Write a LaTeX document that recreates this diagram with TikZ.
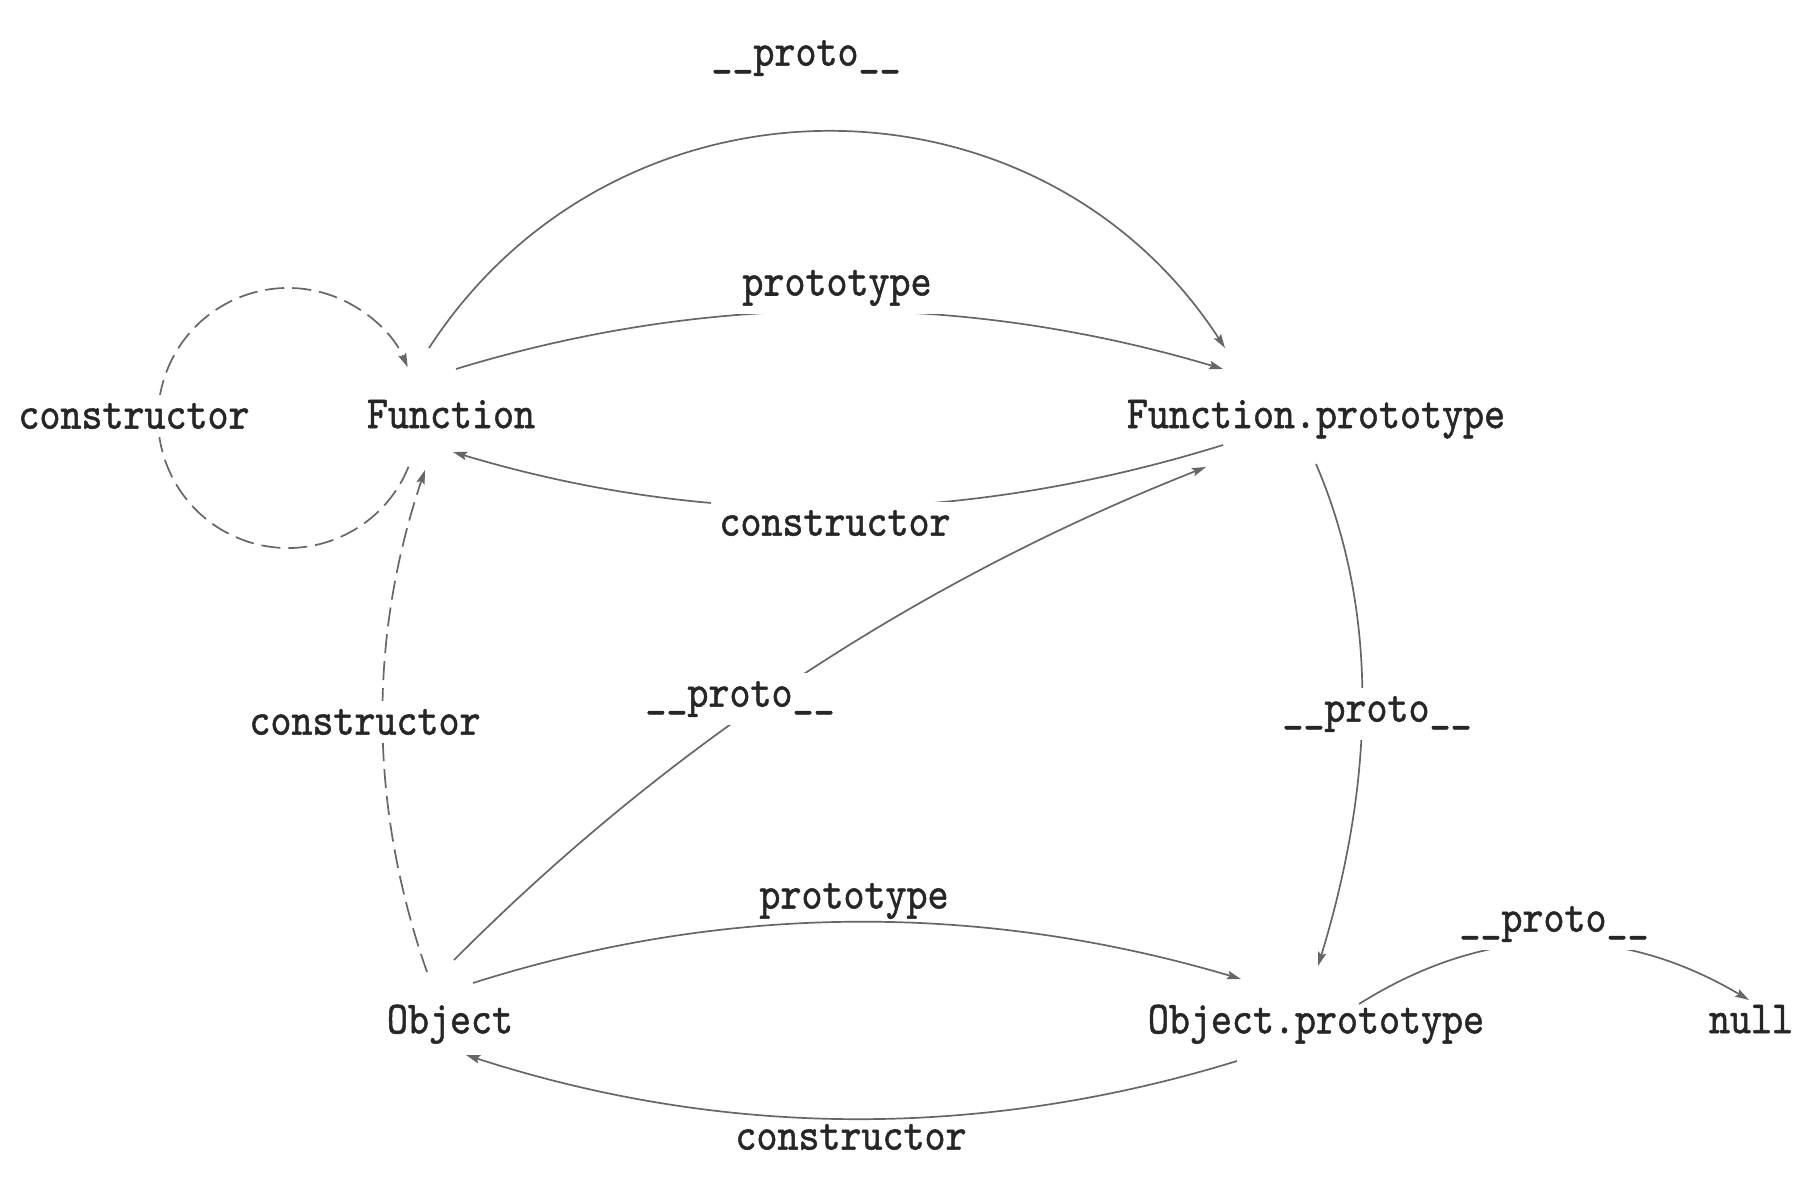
\documentclass[tikz,border=0pt]{standalone}
\usepackage{fontspec}
\newfontfamily\lblfont{lmmono10-regular.otf}[FakeStretch=0.87,FakeBold=1.1]
\usetikzlibrary{arrows.meta,calc}
\definecolor{ink}{HTML}{262626}
\definecolor{edgecol}{HTML}{666666}
\begin{document}
\begin{tikzpicture}[x=0.5pt,y=-0.5pt,
  every node/.style={font=\lblfont\fontsize{23pt}{27pt}\selectfont, text=ink},
  obj/.style={inner sep=0pt, text depth=0pt},
  lbl/.style={inner sep=0pt},
  lblw/.style={fill=white, inner sep=4pt},
  conn/.style={draw=edgecol, line width=0.85pt, -{Stealth[length=7pt,width=4.2pt,inset=1.2pt]}},
  dconn/.style={conn, dash pattern=on 9.5pt off 4pt}]
\useasboundingbox (0,0) rectangle (1818,1192);

% objects
\node[obj] (F)  at (451,414)  {Function};
\node[obj] (FP) at (1316,414) {Function.prototype};
\node[obj] (O)  at (450,1019) {Object};
\node[obj] (OP) at (1316,1019) {Object.prototype};
\node[obj] (N)  at (1751,1019) {null};

% edges
\draw[conn] ($(F)+(-22,-66)$) .. controls (616,60) and (1038,60) .. ($(FP)+(-91,-66)$);
\draw[conn] ($(F)+(5,-45)$) .. controls (708,292) and (964,292) .. ($(FP)+(-93,-45)$);
\draw[conn] ($(FP)+(-93,31)$) .. controls (962,526) and (706,528) .. ($(F)+(2,38)$);
\coordinate (lc) at ($(F)+(-163,4)$);
\draw[dconn] ($(lc)+(-22:65pt)$) arc[start angle=-22, end angle=-337, radius=65pt];
\draw[dconn] ($(O)+(-23,-47)$) .. controls (369,806) and (368,639) .. ($(F)+(-26,56)$);
\draw[conn] ($(O)+(4,-59)$) .. controls (669,744) and (919,580) .. ($(FP)+(-110,53)$);
\draw[conn] ($(FP)+(0,50)$) .. controls (1377,606) and (1377,773) .. ($(OP)+(2,-53)$);
\draw[conn] ($(O)+(23,-36)$) .. controls (725,903) and (981,902) .. ($(OP)+(-75,-40)$);
\draw[conn] ($(OP)+(-79,42)$) .. controls (980,1140) and (723,1138) .. ($(O)+(16,36)$);
\draw[conn] ($(OP)+(43,-15)$) .. controls (1488,923) and (1619,923) .. ($(N)+(-2,-19)$);

% labels
\node[lbl]  (l1)  at (806,58)   {\_\_proto\_\_};
\node[lblw] (l2)  at (837,288)  {prototype};
\node[lblw] (l3)  at (835,523)  {constructor};
\node[lblw] (l4)  at (134,416)  {constructor};
\node[lblw] (l5)  at (365,722)  {constructor};
\node[lblw] (l6)  at (740,699)  {\_\_proto\_\_};
\node[lblw] (l7)  at (1377,714) {\_\_proto\_\_};
\node[lbl]  (l8)  at (854,901)  {prototype};
\node[lbl]  (l9)  at (851,1137) {constructor};
\node[lblw] (l10) at (1554,924) {\_\_proto\_\_};
\end{tikzpicture}
\end{document}
